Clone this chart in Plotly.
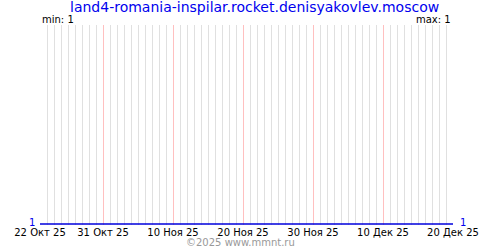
import plotly.graph_objects as go

title = "land4-romania-inspilar.rocket.denisyakovlev.moscow"
dates = ["2025-10-22", "2025-12-20"]
values = [1, 1]
tick_dates = ["2025-10-22", "2025-10-31", "2025-11-10", "2025-11-20",
              "2025-11-30", "2025-12-10", "2025-12-20"]
tick_labels = ["22 Окт 25", "31 Окт 25", "10 Ноя 25", "20 Ноя 25",
               "30 Ноя 25", "10 Дек 25", "20 Дек 25"]
min_val = 1
max_val = 1

FONT = "DejaVu Sans"

fig = go.Figure()
fig.add_trace(go.Scatter(x=dates, y=values, mode="lines",
                         line=dict(color="#0000dd", width=1.5),
                         hoverinfo="skip", showlegend=False))

fig.update_layout(
    width=500, height=250,
    margin=dict(l=40, r=47, t=25, b=25),
    paper_bgcolor="white", plot_bgcolor="white",
    font=dict(family=FONT, size=10, color="black"),
    xaxis=dict(
        type="date",
        range=[dates[0], dates[-1]],
        tickvals=tick_dates, ticktext=tick_labels,
        showgrid=True, gridcolor="#ffc0c0", gridwidth=1,
        showline=False, zeroline=False, ticks="",
        tickfont=dict(family=FONT, size=10, color="black"),
        minor=dict(dtick=86400000, tick0=dates[0], showgrid=True,
                   gridcolor="#e0e0e0", gridwidth=1),
        ticklabelstandoff=0,
    ),
    yaxis=dict(range=[0.995, 2], showgrid=False, showticklabels=False,
               zeroline=False, showline=False, ticks=""),
)

fig.add_annotation(text=title, xref="paper", yref="paper", x=0.5185, y=1,
                   yshift=28, yanchor="top", showarrow=False,
                   font=dict(family=FONT, size=14, color="#0000ee"))
fig.add_annotation(text=f"min: {min_val}", xref="paper", yref="paper", x=0,
                   y=1, xanchor="left", yanchor="bottom", xshift=0, yshift=-2,
                   showarrow=False, font=dict(family=FONT, size=10, color="black"))
fig.add_annotation(text=f"max: {max_val}", xref="paper", yref="paper", x=1,
                   y=1, xanchor="right", yanchor="bottom", yshift=-2,
                   showarrow=False, font=dict(family=FONT, size=10, color="black"))
fig.add_annotation(text=str(values[0]), xref="paper", yref="y", x=0, y=values[0],
                   xanchor="right", yanchor="bottom", xshift=-3, yshift=-6,
                   showarrow=False, font=dict(family=FONT, size=10, color="#0000ee"))
fig.add_annotation(text=str(values[-1]), xref="paper", yref="y", x=1, y=values[-1],
                   xanchor="left", yanchor="bottom", xshift=5, yshift=-6,
                   showarrow=False, font=dict(family=FONT, size=10, color="#0000ee"))
fig.add_annotation(text="©2025 www.mmnt.ru", xref="paper", yref="paper", x=0.486,
                   y=0, yshift=-25, yanchor="bottom", showarrow=False,
                   font=dict(family=FONT, size=10, color="#999999"))

fig.write_html("out.html")
